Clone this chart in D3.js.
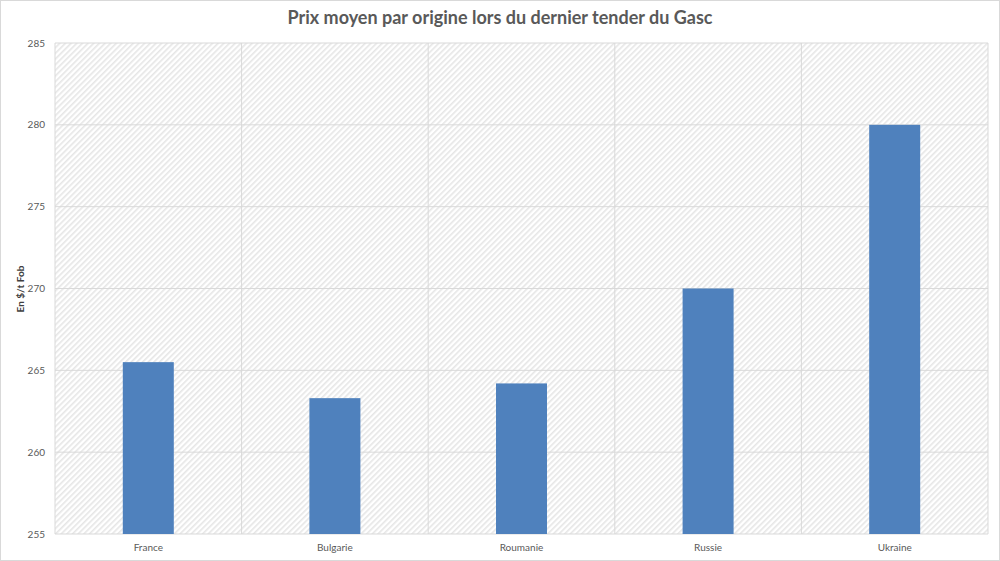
<!DOCTYPE html><html><head><meta charset="utf-8">
<script src="https://cdn.jsdelivr.net/npm/d3@7"></script>
<style>body{margin:0;background:#fff}</style></head><body><svg id="c" width="1000" height="561"></svg>
<script>
const categories=["France","Bulgarie","Roumanie","Russie","Ukraine"];
const values=[265.5,263.3,264.2,270,280];
const yTicks=[255,260,265,270,275,280,285];
const svg=d3.select("#c");
const m={l:55,r:988,t:43,b:534};
const defs=svg.append("defs");
const p=defs.append("pattern").attr("id","h").attr("patternUnits","userSpaceOnUse").attr("width",4).attr("height",4).attr("patternTransform","rotate(45)");
p.append("rect").attr("width",4).attr("height",4).attr("fill","#fff");
p.append("rect").attr("width",1.6).attr("height",4).attr("fill","#e6e6e6");
svg.append("rect").attr("x",0.5).attr("y",0.5).attr("width",999).attr("height",560).attr("fill","none").attr("stroke","#d9d9d9");
svg.append("rect").attr("x",m.l).attr("y",m.t).attr("width",m.r-m.l).attr("height",m.b-m.t).attr("fill","url(#h)");
const x=d3.scaleBand().domain(categories).range([m.l,m.r]);
const y=d3.scaleLinear().domain([255,285]).range([m.b,m.t]);
svg.append("g").selectAll("line").data(yTicks).join("line").attr("x1",m.l).attr("x2",m.r).attr("y1",d=>y(d)).attr("y2",d=>y(d)).attr("stroke","#d9d9d9");
svg.append("g").selectAll("line").data(categories.concat([null])).join("line").attr("x1",(d,i)=>m.l+i*x.bandwidth()).attr("x2",(d,i)=>m.l+i*x.bandwidth()).attr("y1",m.t).attr("y2",m.b).attr("stroke","#d9d9d9");
svg.append("g").selectAll("rect").data(values).join("rect").attr("x",(d,i)=>x(categories[i])+x.bandwidth()/2-25.5).attr("width",51).attr("y",d=>y(d)).attr("height",d=>m.b-y(d)).attr("fill","#4f81bd");
svg.append("g").selectAll("text").data(yTicks).join("text").attr("x",m.l-10).attr("y",d=>y(d)+3.5).attr("text-anchor","end").attr("font-family","Lato").attr("font-size",10).attr("fill","#595959").text(d=>d);
svg.append("g").selectAll("text").data(categories).join("text").attr("x",d=>x(d)+x.bandwidth()/2).attr("y",551).attr("text-anchor","middle").attr("font-family","Lato").attr("font-size",10).attr("fill","#595959").text(d=>d);
svg.append("text").attr("x",500).attr("y",24).attr("text-anchor","middle").attr("font-family","Lato").attr("font-weight","bold").attr("font-size",18).attr("fill","#595959").text("Prix moyen par origine lors du dernier tender du Gasc");
svg.append("text").attr("transform","translate(24,289) rotate(-90)").attr("text-anchor","middle").attr("font-family","Lato").attr("font-weight","bold").attr("font-size",10).attr("fill","#404040").text("En $/t Fob");
</script></body></html>
